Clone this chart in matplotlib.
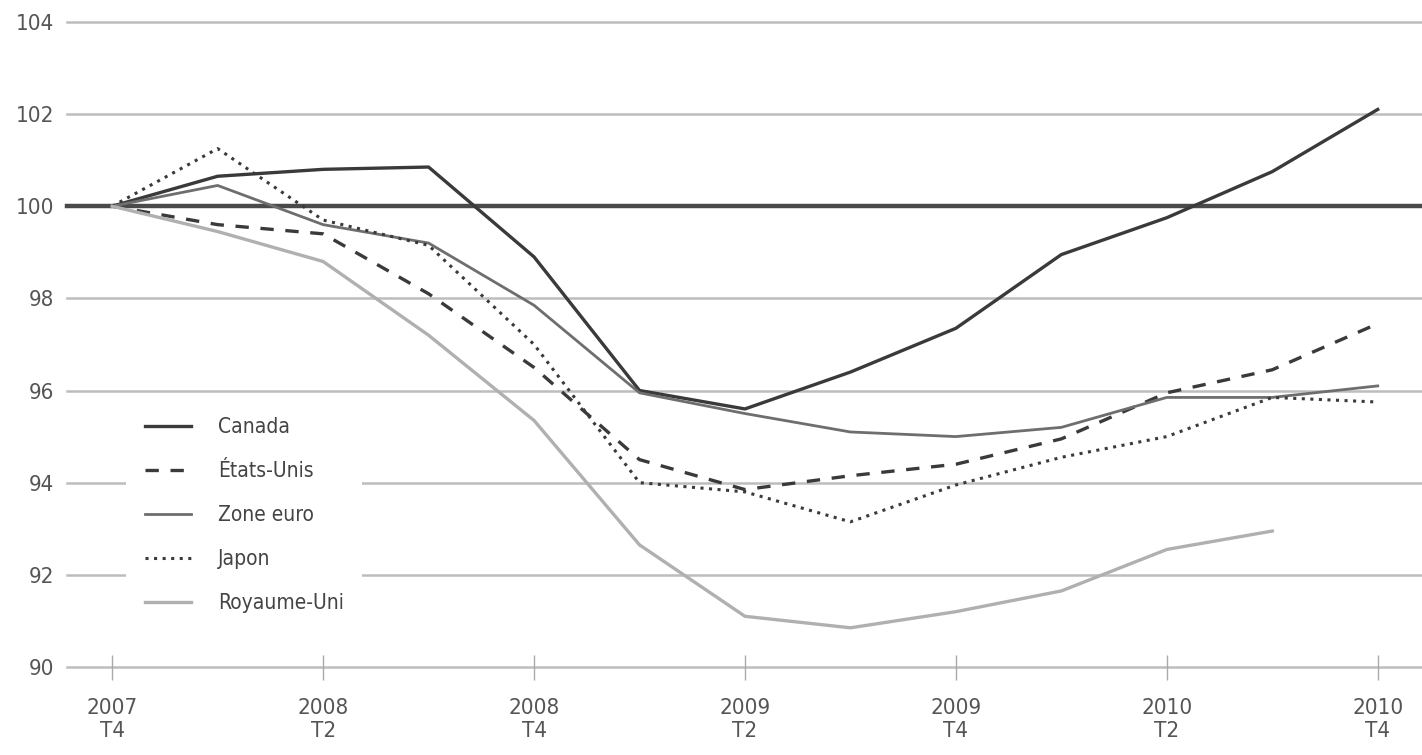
import matplotlib.pyplot as plt
import numpy as np

plt.rcParams['font.family'] = ['DejaVu Sans']
plt.rcParams['font.stretch'] = 'condensed'

quarters = ["2007\nT4", "2008\nT1", "2008\nT2", "2008\nT3", "2008\nT4", "2009\nT1", "2009\nT2",
            "2009\nT3", "2009\nT4", "2010\nT1", "2010\nT2", "2010\nT3", "2010\nT4"]

canada = [100, 100.65, 100.8, 100.85, 98.9, 96.0, 95.6, 96.4, 97.35, 98.95, 99.75, 100.75, 102.1]
etats_unis = [100, 99.6, 99.4, 98.1, 96.5, 94.5, 93.85, 94.15, 94.4, 94.95, 95.95, 96.45, 97.45]
zone_euro = [100, 100.45, 99.6, 99.2, 97.85, 95.95, 95.5, 95.1, 95.0, 95.2, 95.85, 95.85, 96.1]
japon = [100, 101.25, 99.7, 99.15, 97.0, 94.0, 93.8, 93.15, 93.95, 94.55, 95.0, 95.85, 95.75]
royaume_uni = [100, 99.45, 98.8, 97.2, 95.35, 92.65, 91.1, 90.85, 91.2, 91.65, 92.55, 92.95]

x = np.arange(len(quarters))

fig = plt.figure(figsize=(14.22, 7.55), dpi=100)
ax = fig.add_axes([0.047, 0.1166, 0.953, 0.8544])

# lignes horizontales
for yv in range(90, 105, 2):
    if yv == 100:
        ax.axhline(yv, color='#4a4a4a', lw=3.2, zorder=1, clip_on=False)
    else:
        ax.axhline(yv, color='#bdbdbd', lw=1.8, zorder=1, clip_on=False)

ax.plot(x, canada, color='#3a3a3a', lw=2.4, label='Canada', zorder=3)
ax.plot(x, etats_unis, color='#3a3a3a', lw=2.4, ls=(0, (4, 3.5)), label='États-Unis', zorder=3)
ax.plot(x, zone_euro, color='#6e6e6e', lw=2.0, label='Zone euro', zorder=3)
ax.plot(x, japon, color='#3a3a3a', lw=2.2, ls=(0, (1, 1.8)), label='Japon', zorder=3)
ax.plot(x[:len(royaume_uni)], royaume_uni, color='#b0b0b0', lw=2.4, label='Royaume-Uni', zorder=3)

ax.set_xlim(-0.43, 12.42)
ax.set_ylim(90, 104)
ax.set_yticks(range(90, 105, 2))
ax.set_xticks(x[::2])
ax.set_xticklabels(quarters[::2])

for s in ax.spines.values():
    s.set_visible(False)
ax.tick_params(axis='y', length=0, pad=9, labelsize=16, labelcolor='#555555')
ax.tick_params(axis='x', direction='inout', length=18, width=1, color='#aaaaaa',
               pad=13, labelsize=16, labelcolor='#555555')

leg = ax.legend(loc='upper left', bbox_to_anchor=(0.036, 0.432), frameon=True, fontsize=15,
                handlelength=2.2, handletextpad=1.3, labelspacing=1.15, borderpad=0.9,
                labelcolor='#444444')
leg.get_frame().set_facecolor('white')
leg.get_frame().set_edgecolor('none')
leg.get_frame().set_alpha(1)
leg.set_zorder(5)

fig.savefig('out.png', dpi=100)
